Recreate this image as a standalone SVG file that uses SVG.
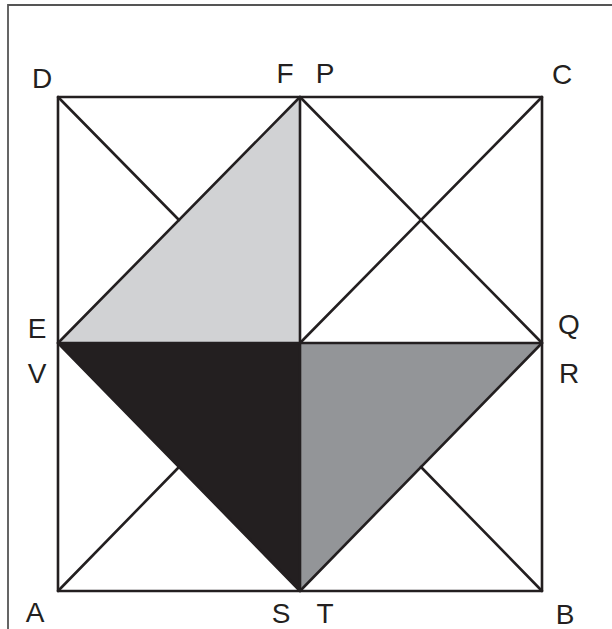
<svg xmlns="http://www.w3.org/2000/svg" width="612" height="629" viewBox="0 0 612 629">
<style>
.ln{stroke:#231f20;stroke-width:2.6;fill:none;stroke-linecap:round;stroke-linejoin:round}
.lb{font-family:"Liberation Sans",Arial,sans-serif;font-size:28px;fill:#231f20;text-anchor:middle}
</style>
<rect width="612" height="629" fill="#fff"/>
<path d="M8 629 V5 H612" stroke="#555" stroke-width="1.8" fill="none"/>
<g id="shapes">
<polygon id="lightTri" points="300,97 58,343 300,343" fill="#d1d2d4"/>
<polygon id="blackTri" points="58,343 300,343 300,591" fill="#231f20"/>
<polygon id="grayTri" points="300,343 542,343 300,591" fill="#939598"/>
</g>
<g id="connectors" class="ln">
<rect x="58" y="97" width="484" height="494"/>
<line x1="58" y1="97" x2="179" y2="220"/>
<line x1="421" y1="467" x2="542" y2="591"/>
<line x1="58" y1="591" x2="179" y2="467"/>
<line x1="300" y1="343" x2="542" y2="97"/>
<line x1="300" y1="97" x2="300" y2="591"/>
<line x1="58" y1="343" x2="542" y2="343"/>
<polygon points="300,97 542,343 300,591 58,343"/>
</g>
<g id="labels" class="lb">
<text x="42" y="88">D</text>
<text x="562" y="84">C</text>
<text x="285" y="83">F</text>
<text x="325" y="83">P</text>
<text x="37" y="338">E</text>
<text x="37" y="383">V</text>
<text x="569" y="334">Q</text>
<text x="569" y="383">R</text>
<text x="35" y="622">A</text>
<text x="281" y="623">S</text>
<text x="325" y="623">T</text>
<text x="565" y="624">B</text>
</g>
</svg>
